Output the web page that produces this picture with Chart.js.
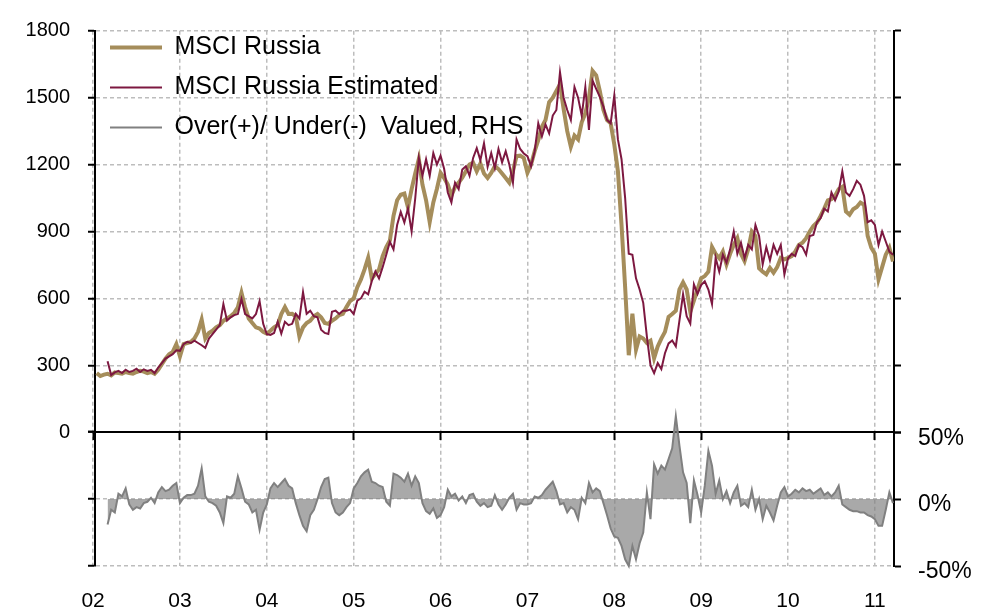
<!DOCTYPE html>
<html>
<head>
<meta charset="utf-8">
<script src="https://cdn.jsdelivr.net/npm/chart.js@4/dist/chart.umd.min.js"></script>
<style>
  html, body { margin: 0; padding: 0; background: #fff; }
  #wrap { width: 982px; height: 614px; }
</style>
</head>
<body>
<div id="wrap"><canvas id="russiaChart" width="982" height="614"></canvas></div>
<script>
// semi-monthly observations, index 1 = mid Jan 2002
const firstYear = 2002;
const obsPerYear = 24;

// MSCI Russia index level (LHS)
const msciRussia = [
  265, 252, 258, 262, 255, 268, 265, 262, 270, 265, 262, 270, 275, 272, 265, 270, 262, 280, 305, 330, 350, 360, 395,
  340, 395, 400, 405, 420, 450, 505, 420, 445, 455, 470, 480, 500, 510, 520, 535, 560, 625, 560, 510, 490, 470, 465, 450,
  442, 455, 470, 480, 530, 561, 530, 531, 520, 429, 470, 490, 500, 520, 530, 515, 490, 486, 500, 510, 525, 531, 561, 588,
  600, 650, 685, 730, 782, 690, 710, 730, 790, 830, 860, 970, 1040, 1065, 1070, 1008, 1090, 1160, 1225, 1110, 1040, 942, 1030, 1092,
  1163, 1140, 1110, 1061, 1100, 1119, 1141, 1170, 1200, 1208, 1170, 1205, 1160, 1140, 1163, 1193, 1180, 1160, 1140, 1119, 1170, 1238, 1240, 1230,
  1163, 1200, 1260, 1310, 1370, 1400, 1480, 1500, 1530, 1560, 1450, 1350, 1280, 1330, 1313, 1390, 1430, 1500, 1620, 1600, 1530, 1445, 1400, 1385,
  1290, 1170, 930, 650, 345, 531, 370, 429, 420, 400, 410, 332, 385, 420, 450, 517, 530, 545, 640, 672, 640, 540, 590, 640,
  690, 700, 720, 830, 800, 780, 810, 752, 800, 840, 870, 800, 767, 820, 900, 880, 735, 720, 708, 737, 715, 740, 782, 775,
  782, 790, 810, 840, 850, 870, 900, 925, 940, 970, 1003, 1040, 1045, 1060, 1090, 1100, 990, 975, 1000, 1010, 1030, 1020, 880, 827,
  800, 685, 740, 796, 827, 765
];

// model estimate (LHS)
const msciEstimated = [
  null, null, null, 318, 256, 268, 275, 265, 280, 270, 275, 285, 270, 282, 275, 280, 265, 290, 310, 330, 340, 350, 367,
  365, 395, 405, 400, 410, 400, 390, 378, 420, 440, 460, 480, 575, 500, 515, 525, 530, 597, 530, 520, 510, 530, 588, 486,
  440, 436, 445, 495, 442, 495, 480, 486, 531, 510, 628, 531, 545, 520, 515, 460, 445, 440, 540, 545, 530, 545, 545, 550,
  530, 590, 600, 630, 618, 677, 721, 690, 740, 796, 854, 820, 929, 988, 940, 1003, 900, 1048, 1230, 1150, 1224, 1150, 1252, 1200,
  1240, 1180, 1075, 1030, 1119, 1090, 1178, 1193, 1150, 1230, 1274, 1220, 1296, 1190, 1252, 1185, 1270, 1210, 1260, 1200, 1119, 1313, 1270, 1250,
  1238, 1193, 1260, 1385, 1326, 1380, 1340, 1420, 1445, 1614, 1500, 1445, 1400, 1548, 1500, 1420, 1548, 1356, 1577, 1540, 1504, 1460, 1400, 1385,
  1510, 1313, 1224, 1050, 800, 796, 690, 640, 580, 430, 300, 265, 310, 283, 354, 398, 411, 385, 500, 619, 520, 487, 663, 620,
  660, 677, 640, 575, 782, 720, 796, 760, 820, 900, 800, 850, 780, 840, 820, 929, 880, 752, 830, 770, 840, 800, 840, 708,
  780, 800, 790, 840, 830, 796, 880, 885, 942, 960, 1003, 990, 1075, 1040, 1080, 1170, 1075, 1060, 1090, 1127, 1110, 1060, 942, 950,
  930, 840, 900, 855, 810, 796
];

// over(+)/under(-) valuation in % (RHS)
const valuationGap = [
  null, null, null, -19, -8, -10, 4, 2, 8, -4, -8, -6, -7, -3, -2, 1, -3, 5, 9, 6, 7, 10, 12,
  -3, 1, 3, 3, 4, 10, 23, 2, -2, -3, -5, -10, -18, 2, 1, 4, 17, 8, -2, -4, -10, -8, -23, -10,
  -4, 8, 12, 9, 12, 15, 10, 8, -3, -12, -20, -24, -12, -8, 0, 9, 15, 16, -3, -10, -12, -10, -6, -3,
  8, 12, 17, 20, 22, 13, 12, 10, 9, -2, -5, 19, 18, 16, 13, 19, 10, 17, 12, -3, -9, -11, -7, -14,
  -12, -6, 7, 2, 4, -1, 2, -3, 3, 4, -2, -5, -3, -6, -5, 3, -4, -8, -4, 1, 4, -8, -3, -4,
  -4, -3, 2, 1, 3, 7, 10, 13, 6, -4, -3, -10, -6, -8, -15, 1, -3, 12, 5, 8, 6, -3, -12, -22,
  -28, -29, -35, -45, -50, -35, -45, -33, -25, 5, -15, 26, 19, 25, 22, 30, 38, 62, 40, 20, 12, -18, 14, 3,
  -10, 10, 36, 25, 4, 14, 0, 6, -3, 5, 10, -5, -3, -6, 7, -8, 0, -15, -5, -10, -16, -5, 5, 9,
  2, 4, 7, 5, 8, 6, 7, 4, 6, 8, 3, 5, 2, 5, 10, -4, -6, -8, -9, -9, -10, -10, -12, -13,
  -15, -20, -20, -8, 5, -3
];

const yearTicks = [2002, 2003, 2004, 2005, 2006, 2007, 2008, 2009, 2010, 2011];
const yearLabels = ['02', '03', '04', '05', '06', '07', '08', '09', '10', '11'];
const xMin = 2002.022, xMax = 2011.22;

const dates = msciRussia.map((_, i) => firstYear + (i + 1) / obsPerYear);
const toPoints = arr => arr.map((v, i) => ({ x: dates[i], y: v }));

Chart.defaults.font.family = '"Liberation Sans", Arial, sans-serif';
Chart.defaults.color = '#000';

const gridGrey = '#bdbdbd';
const gridDash = [4, 3];
const tickFont = { size: 20 };

const yearAxisTicks = s => { s.ticks = yearTicks.map(v => ({ value: v })); };

const ctx = document.getElementById('russiaChart').getContext('2d');
new Chart(ctx, {
  type: 'line',
  data: {
    datasets: [
      {
        label: 'MSCI Russia',
        data: toPoints(msciRussia),
        borderColor: '#a58d5b',
        borderWidth: 4,
        yAxisID: 'y',
        order: 2
      },
      {
        label: 'MSCI Russia Estimated',
        data: toPoints(msciEstimated),
        borderColor: '#7d1840',
        borderWidth: 2,
        yAxisID: 'y',
        order: 1
      },
      {
        label: 'Over(+)/ Under(-)  Valued, RHS',
        data: toPoints(valuationGap),
        borderColor: '#808080',
        backgroundColor: 'rgba(128,128,128,0.68)',
        borderWidth: 2,
        fill: 'origin',
        yAxisID: 'bR',
        clip: false,
        order: 0
      }
    ]
  },
  options: {
    responsive: false,
    animation: false,
    layout: { padding: { top: 23, left: 0, right: 0, bottom: 0 } },
    elements: { point: { radius: 0 }, line: { tension: 0 } },
    plugins: {
      tooltip: { enabled: false },
      legend: {
        position: 'chartArea',
        align: 'start',
        // empty title only pushes the rows down inside the plot
        title: { display: true, text: ' ', padding: 0, font: { size: 20, lineHeight: 1 } },
        labels: {
          usePointStyle: true,
          pointStyle: 'line',
          pointStyleWidth: 52,
          padding: 15,
          font: { size: 25 },
          color: '#000',
          sort: (a, b) => a.datasetIndex - b.datasetIndex
        }
      }
    },
    scales: {
      x: {
        type: 'linear', axis: 'x', position: 'bottom',
        min: xMin, max: xMax,
        afterBuildTicks: yearAxisTicks,
        ticks: {
          callback: v => yearLabels[yearTicks.indexOf(v)],
          padding: 23, font: { size: 21 }, maxRotation: 0, autoSkip: false
        },
        grid: { color: gridGrey, lineWidth: 1.5, drawTicks: false },
        border: { display: false, dash: gridDash },
        afterFit: s => { s.height = 48; }
      },
      xTop: {
        type: 'linear', axis: 'x', position: { y: 0 },
        min: xMin, max: xMax,
        afterBuildTicks: yearAxisTicks,
        ticks: { display: false },
        grid: { drawOnChartArea: false, drawTicks: true, tickLength: 7, tickColor: '#000', tickWidth: 2 },
        border: { color: '#000', width: 2 }
      },
      y: {
        axis: 'y', position: 'left', stack: 'left', stackWeight: 3, weight: 1,
        min: 0, max: 1800,
        ticks: { stepSize: 300, padding: 18, font: tickFont, callback: v => String(v) },
        grid: {
          color: c => c.tick.value === 0 ? 'rgba(0,0,0,0)' : gridGrey,
          lineWidth: 1.5, tickLength: 7, tickColor: '#000', tickWidth: 2
        },
        border: { color: '#000', width: 2, dash: gridDash },
        afterFit: s => { s.width = 95; }
      },
      bL: {
        axis: 'y', position: 'left', stack: 'left', stackWeight: 1, weight: 0,
        min: -50, max: 50,
        ticks: { stepSize: 50, display: false },
        grid: {
          color: c => c.tick.value === 50 ? 'rgba(0,0,0,0)' : gridGrey,
          lineWidth: 1.5, tickLength: 7, tickColor: '#000', tickWidth: 2
        },
        border: { color: '#000', width: 2, dash: gridDash },
        afterFit: s => { s.width = 95; }
      },
      yR: {
        axis: 'y', position: 'right', stack: 'right', stackWeight: 3, weight: 0,
        min: 0, max: 1800,
        ticks: { stepSize: 300, display: false },
        grid: { drawOnChartArea: false, tickLength: 7, tickColor: '#000', tickWidth: 2 },
        border: { color: '#000', width: 2 },
        afterFit: s => { s.width = 88; }
      },
      bR: {
        axis: 'y', position: 'right', stack: 'right', stackWeight: 1, weight: 1,
        min: -50, max: 50,
        ticks: { stepSize: 50, callback: v => v + '%', padding: 17, labelOffset: 6, font: { size: 23 } },
        grid: { drawOnChartArea: false, tickLength: 7, tickColor: '#000', tickWidth: 2 },
        border: { color: '#000', width: 2 },
        afterFit: s => { s.width = 88; }
      }
    }
  }
});
</script>
</body>
</html>
